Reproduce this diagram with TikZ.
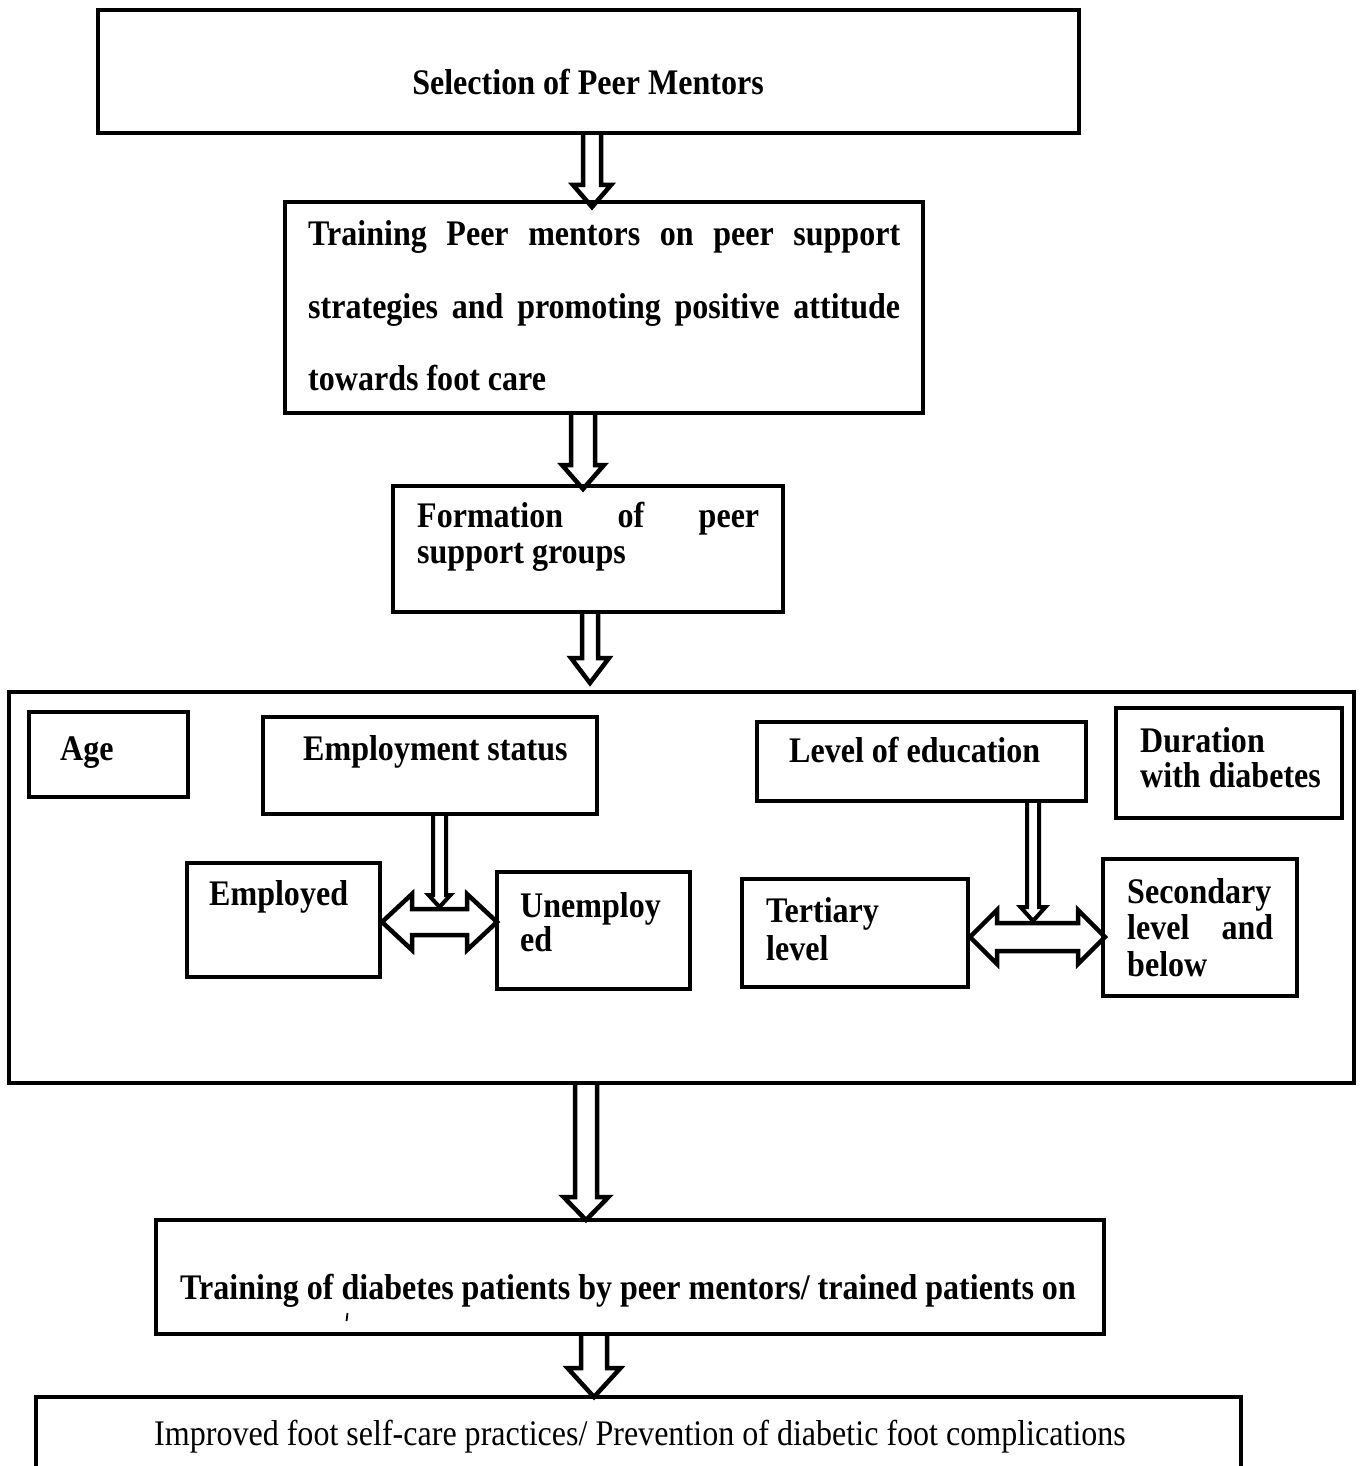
\documentclass[tikz,border=0pt]{standalone}
\usepackage{fontspec}
\setmainfont[FakeStretch=0.89]{Liberation Serif}
\tikzset{
  box/.style={draw, line width=4.5pt, inner sep=0pt, outer sep=0pt},
  txt/.style={anchor=base west, inner sep=0pt, font=\fontsize{36}{40}\selectfont\bfseries},
  rtxt/.style={anchor=base west, inner sep=0pt, font=\fontsize{36}{40}\selectfont},
  harrow/.style={line width=4.5pt, line join=miter},
  sarrow/.style={line width=4pt, line join=miter}
}
% name, x1, y1, x2, y2
\newcommand\mkbox[5]{\node[box, minimum width=#4pt-#2pt, minimum height=#5pt-#3pt] (#1) at ({(#2+#4)/2},{(#3+#5)/2}) {};}
% style, x, ytop, yhead, ytip, shaft half, head half
\newcommand\vhollow[7]{\draw[#1] (#2-#6,#3) -- (#2-#6,#4) -- (#2-#7,#4) -- (#2,#5) -- (#2+#7,#4) -- (#2+#6,#4) -- (#2+#6,#3);}
% style, xl, xr, yc, head length, shaft half, head half
\newcommand\hdouble[7]{\draw[#1] (#2,#4) -- (#2+#5,#4-#7) -- (#2+#5,#4-#6) -- (#3-#5,#4-#6) -- (#3-#5,#4-#7) -- (#3,#4) -- (#3-#5,#4+#7) -- (#3-#5,#4+#6) -- (#2+#5,#4+#6) -- (#2+#5,#4+#7) -- cycle;}
\begin{document}
\begin{tikzpicture}[x=1pt,y=-1pt]
\clip (0,0) rectangle (1362,1466);
\fill[white] (0,0) rectangle (1362,1466);

% boxes
\mkbox{b1}{98}{10}{1079}{133}
\mkbox{b2}{285}{202}{923}{413}
\mkbox{b3}{393}{486}{783}{612}
\mkbox{big}{9}{692}{1354}{1083}
\mkbox{age}{29}{712}{188}{797}
\mkbox{emp}{263}{717}{597}{814}
\mkbox{edu}{757}{722}{1086}{801}
\mkbox{dur}{1116}{708}{1342}{818}
\mkbox{empd}{187}{863}{380}{977}
\mkbox{unemp}{497}{872}{690}{989}
\mkbox{tert}{742}{879}{968}{987}
\mkbox{sec}{1103}{859}{1297}{996}
\mkbox{b6}{156}{1220}{1104}{1334}
\mkbox{b7}{36}{1397}{1241}{1520}

% texts
\node[txt, anchor=base] (t1) at (588,95) {Selection of Peer Mentors};
\node[txt] (t2a) at (308,245) {\makebox[592pt][s]{Training Peer mentors on peer support}};
\node[txt] (t2b) at (308,318) {\makebox[592pt][s]{strategies and promoting positive attitude}};
\node[txt] (t2c) at (308,390) {towards foot care};
\node[txt] (t3a) at (417,527) {\makebox[342pt][s]{Formation of peer}};
\node[txt] (t3b) at (417,563) {support groups};
\node[txt] (tage) at (60,760) {Age};
\node[txt] (temp) at (303,760) {Employment status};
\node[txt] (tedu) at (789,762) {Level of education};
\node[txt] (tdur1) at (1140,752) {Duration};
\node[txt] (tdur2) at (1140,787) {with diabetes};
\node[txt] (tempd) at (209,905) {Employed};
\node[txt] (tun1) at (520,917) {Unemploy};
\node[txt] (tun2) at (520,951) {ed};
\node[txt] (tter1) at (766,922) {Tertiary};
\node[txt] (tter2) at (766,960) {level};
\node[txt] (tsec1) at (1127,903) {Secondary};
\node[txt] (tsec2) at (1127,939) {\makebox[146pt][s]{level and}};
\node[txt] (tsec3) at (1127,976) {below};
\node[txt] (t6) at (180,1299) {Training of diabetes patients by peer mentors/ trained patients on};
\node[rtxt, anchor=base] (t7) at (640,1445) {Improved foot self-care practices/ Prevention of diabetic foot complications};
\draw[line width=1.8pt] (347.5,1313) -- (346.5,1321);

% main hollow arrows
\vhollow{harrow}{592}{133}{185}{207}{9}{19}
\vhollow{harrow}{583}{413}{465}{489}{12}{21}
\vhollow{harrow}{590}{612}{658}{683}{8}{19}
\vhollow{harrow}{586}{1083}{1197}{1220}{11}{22.5}
\vhollow{harrow}{594}{1334}{1368}{1397}{13}{26.5}

% inner arrows
\vhollow{sarrow}{439.5}{814}{895}{907}{6.5}{11}
\hdouble{harrow}{382}{497}{922}{30}{13}{28}
\vhollow{sarrow}{1033}{801}{907}{921}{6}{12.5}
\hdouble{harrow}{970}{1105}{937}{27}{14}{27}
\end{tikzpicture}
\end{document}
